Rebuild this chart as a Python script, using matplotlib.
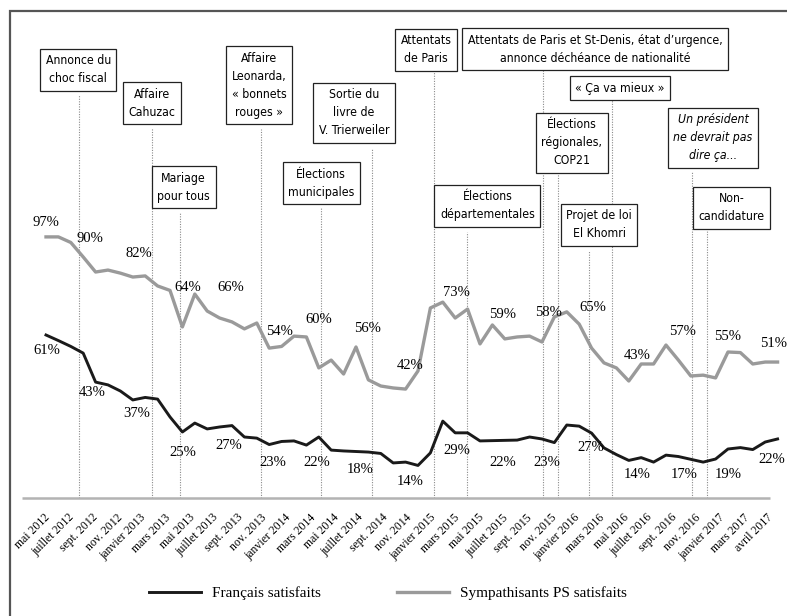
import numpy as np
import matplotlib
matplotlib.use('Agg')
import matplotlib.pyplot as plt
from matplotlib.patches import Rectangle
from matplotlib import font_manager as fm

# Mois de mai 2012 à avril 2017 (un point par mois)
francais = [61.0, 59.0, 56.9, 54.5, 44.1, 43.1, 40.9, 37.7, 38.6, 38.0,
            31.6, 26.2, 29.4, 27.3, 28.0, 28.5, 24.4, 24.0, 21.7, 22.8,
            23.0, 21.5, 24.4, 19.7, 19.4, 19.2, 19.0, 18.5, 15.1, 15.4,
            14.2, 18.7, 30.1, 25.9, 25.9, 23.0, 23.1, 23.2, 23.3, 24.4,
            23.7, 22.4, 28.7, 28.3, 25.8, 20.5, 18.1, 16.0, 17.0, 15.4,
            17.9, 17.4, 16.4, 15.4, 16.5, 20.1, 20.6, 19.9, 22.6, 23.7]
sympathisants = [96.2, 96.2, 94.2, 89.0, 83.6, 84.3, 83.2, 81.8, 82.2, 78.6,
                 77.0, 63.9, 75.7, 69.6, 67.1, 65.7, 63.2, 65.3, 56.3, 56.9,
                 60.6, 60.3, 49.2, 52.0, 47.0, 56.7, 44.9, 42.7, 42.0, 41.6,
                 48.1, 70.7, 72.8, 67.1, 70.3, 57.8, 64.6, 59.6, 60.3, 60.6,
                 58.5, 67.5, 69.3, 64.9, 56.3, 51.0, 49.2, 44.5, 50.6, 50.6,
                 57.4, 52.0, 46.3, 46.6, 45.6, 54.9, 54.7, 50.6, 51.3, 51.3]
mois = np.arange(len(francais))

tick_labels = ['mai 2012', 'juillet 2012', 'sept. 2012', 'nov. 2012', 'janvier 2013',
               'mars 2013', 'mai 2013', 'juillet 2013', 'sept. 2013', 'nov. 2013',
               'janvier 2014', 'mars 2014', 'mai 2014', 'juillet 2014', 'sept. 2014',
               'nov. 2014', 'janvier 2015', 'mars 2015', 'mai 2015', 'juillet 2015',
               'sept. 2015', 'nov. 2015', 'janvier 2016', 'mars 2016', 'mai 2016',
               'juillet 2016', 'sept. 2016', 'nov. 2016', 'janvier 2017', 'mars 2017',
               'avril 2017']

# étiquettes de valeurs : (x, y, texte)
labels_ps = [(0.0, 101.2, '97%'), (3.55, 95.8, '90%'), (7.5, 90.4, '82%'),
             (11.45, 78.2, '64%'), (14.9, 78.2, '66%'), (18.8, 62.1, '54%'),
             (22.0, 66.4, '60%'), (25.9, 63.5, '56%'), (29.35, 50.2, '42%'),
             (33.1, 76.1, '73%'), (36.8, 68.2, '59%'), (40.5, 68.9, '58%'),
             (44.1, 71.0, '65%'), (47.7, 53.8, '43%'), (51.3, 62.1, '57%'),
             (55.0, 60.3, '55%'), (58.7, 58.1, '51%')]
labels_fr = [(0.1, 55.6, '61%'), (3.7, 40.2, '43%'), (7.3, 32.7, '37%'),
             (11.05, 19.0, '25%'), (14.7, 21.2, '27%'), (18.3, 15.4, '23%'),
             (21.85, 15.4, '22%'), (25.3, 12.6, '18%'), (29.4, 8.3, '14%'),
             (33.1, 19.7, '29%'), (36.8, 15.4, '22%'), (40.4, 15.4, '23%'),
             (43.9, 20.5, '27%'), (47.7, 10.8, '14%'), (51.45, 10.8, '17%'),
             (55.0, 10.8, '19%'), (58.55, 16.2, '22%')]

# événements : (texte, x boite, y boite, x du repère, haut du repère, italique)
evenements = [
    ('Annonce du\nchoc fiscal', 2.6, 156.1, 2.66, 147.1, False),
    ('Affaire\nCahuzac', 8.55, 144.2, 8.55, 135.3, False),
    ('Mariage\npour tous', 11.1, 114.1, 10.8, 104.8, False),
    ('Affaire\nLeonarda,\n« bonnets\nrouges »', 17.2, 150.7, 17.35, 134.9, False),
    ('Élections\nmunicipales', 22.2, 115.5, 22.2, 106.6, False),
    ('Sortie du\nlivre de\nV. Trierweiler', 24.85, 140.7, 26.3, 127.7, False),
    ('Attentats\nde Paris', 30.65, 163.3, 31.3, 155.4, False),
    ('Attentats de Paris et St-Denis, état d\u2019urgence,\nannonce déchéance de nationalité',
     44.3, 163.6, 40.1, 156.4, False),
    ('« Ça va mieux »', 46.3, 149.6, 45.65, 145.7, False),
    ('Élections\nrégionales,\nCOP21', 42.4, 129.9, 41.3, 119.1, False),
    ('Élections\ndépartementales', 35.6, 107.3, 33.95, 98.0, False),
    ('Projet de loi\nEl Khomri', 44.6, 100.5, 43.8, 91.1, False),
    ('Un président\nne devrait pas\ndire ça...', 53.8, 131.7, 52.1, 119.8, True),
    ('Non-\ncandidature', 55.3, 106.6, 53.3, 98.3, False),
]

serif = ['Liberation Serif', 'DejaVu Serif']

# police étroite pour les encadrés : on prend la plus condensée disponible
fonts = fm.fontManager.ttflist
noms = {f.name for f in fonts}
if 'Liberation Sans Narrow' in noms:
    box_font = dict(family=['Liberation Sans Narrow', 'DejaVu Sans'], size=9.8)
elif any(f.name == 'DejaVu Sans' and 'condensed' in str(f.stretch) for f in fonts):
    box_font = dict(family=['DejaVu Sans', 'DejaVu Serif'], stretch='condensed', size=8.8)
elif 'Roboto Condensed' in noms:
    box_font = dict(family=['Roboto Condensed', 'DejaVu Sans'], size=9.8)
else:
    box_font = dict(family=['Roboto', 'DejaVu Sans'], size=8.8)

fig = plt.figure(figsize=(7.87, 6.16), dpi=100)
ax = fig.add_axes([0, 0, 1, 1])
ax.set_xlim(-3.71, 59.76)
ax.set_ylim(-39.82, 181.2)
ax.axis('off')

# cadre extérieur
ax.add_patch(Rectangle((0.0127, -0.1), 1.1, 1.082, transform=ax.transAxes,
                       fill=False, edgecolor='#555555', lw=1.6, clip_on=False))

# repères verticaux des événements
base = 2.5
for txt, bx, by, lx, ltop, ital in evenements:
    ax.vlines(lx, base, ltop, colors='#8a8a8a', lw=0.8, linestyles=(0, (1, 1.3)), zorder=1)
    ax.text(bx, by, txt, ha='center', va='center', fontproperties=fm.FontProperties(
                style='italic' if ital else 'normal', **box_font),
            linespacing=1.5, zorder=5,
            bbox=dict(boxstyle='square,pad=0.45', fc='white', ec='#222222', lw=0.9))

# axe horizontal
ax.hlines(base, -1.94, 58.4, colors='#b3b3b3', lw=1.8, zorder=2)

l1, = ax.plot(mois, francais, color='#1a1a1a', lw=2.1, label='Français satisfaits', zorder=4)
l2, = ax.plot(mois, sympathisants, color='#9a9a9a', lw=2.4, label='Sympathisants PS satisfaits', zorder=3)

for x, y, t in labels_ps + labels_fr:
    ax.text(x, y, t, ha='center', va='center', fontsize=10.5, family=serif, zorder=6)

tick_pos = np.linspace(0.16, 58.5, len(tick_labels))
for x, t in zip(tick_pos, tick_labels):
    ax.text(x, -3.9, t, rotation=45, rotation_mode='anchor', ha='right', va='center',
            fontsize=8.5, family=serif)

ax.legend(handles=[l1, l2], loc='center', bbox_to_anchor=(0.493, 0.0373), ncol=2,
          frameon=False, handlelength=3.4, handletextpad=0.7, columnspacing=5.0,
          prop={'family': serif, 'size': 11})

fig.savefig('out.png', dpi=100)
